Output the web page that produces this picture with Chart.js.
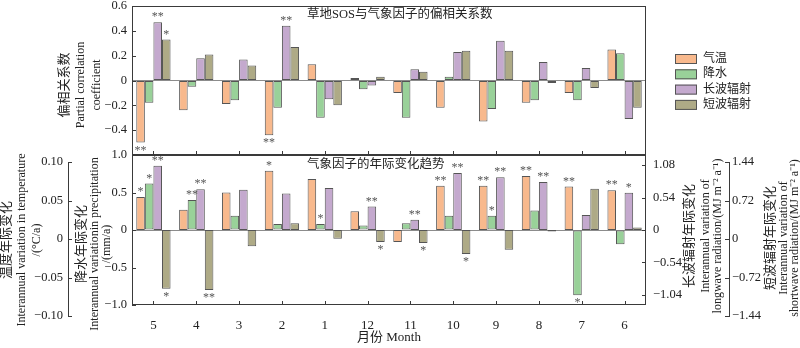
<!DOCTYPE html>
<html>
<head>
<meta charset="utf-8">
<title>草地SOS与气象因子</title>
<script src="https://cdn.jsdelivr.net/npm/chart.js@4.4.1/dist/chart.umd.min.js"></script>
<style>
  html, body { margin: 0; padding: 0; background: #fff; }
  #fig { position: relative; width: 800px; height: 348px; }
  #fig canvas { position: absolute; left: 0; top: 0; }
</style>
</head>
<body>
<div id="fig">
  <canvas id="pcChart" width="800" height="348"></canvas>
  <canvas id="trendChart" width="800" height="348"></canvas>
  <canvas id="sideAxes" width="800" height="348"></canvas>
</div>
<script>
const FAMILY = '"Liberation Serif", "Times New Roman", "Noto Sans CJK SC", serif';
const font = px => px + 'px ' + FAMILY;
Chart.defaults.font.family = FAMILY;
Chart.defaults.color = '#222';
Chart.defaults.animation = false;

//  Data 
const months      = ['5', '4', '3', '2', '1', '12', '11', '10', '9', '8', '7', '6'];
const seriesNames = ['气温', '降水', '长波辐射', '短波辐射'];
const seriesColors = ['#f8b98d', '#99d199', '#c4a9ce', '#aeaa86'];

// partial correlation of grassland SOS with each factor
const pcTemp  = [-0.50, -0.24, -0.19, -0.44,  0.13,  0.02, -0.10, -0.22, -0.33, -0.18, -0.10,  0.25];
const pcPrec  = [-0.18, -0.05, -0.16, -0.22, -0.30, -0.07, -0.30,  0.03, -0.23, -0.16, -0.16,  0.22];
const pcLong  = [ 0.47,  0.18,  0.17,  0.44, -0.15, -0.04,  0.09,  0.23,  0.32,  0.15,  0.10, -0.31];
const pcShort = [ 0.33,  0.21,  0.12,  0.27, -0.20,  0.03,  0.07,  0.24,  0.24, -0.02, -0.06, -0.22];
const pcTempSig  = ['**', '', '', '**', '', '', '', '', '', '', '', ''];
const pcPrecSig  = ['', '', '', '', '', '', '', '', '', '', '', ''];
const pcLongSig  = ['**', '', '', '**', '', '', '', '', '', '', '', ''];
const pcShortSig = ['*', '', '', '', '', '', '', '', '', '', '', ''];

// interannual trend of each factor (°C/a, mm/a, MJ m-2 a-1)
const trTemp  = [0.044, 0.027, 0.050, 0.079, 0.068, 0.025, -0.016, 0.059, 0.059, 0.072, 0.058, 0.053];
const trPrec  = [0.62, 0.40, 0.19, 0.08, 0.08, 0.06, 0.09, 0.19, 0.19, 0.26, -0.87, -0.19];
const trLong  = [1.07, 0.68, 0.67, 0.61, 0.70, 0.39, 0.17, 0.95, 0.88, 0.80, 0.25, 0.62];
const trShort = [-1.13, -1.15, -0.31, 0.13, -0.17, -0.23, -0.25, -0.46, -0.38, -0.03, 0.79, 0.05];
const trTempSig  = ['*', '', '', '*', '', '', '', '**', '**', '**', '**', '**'];
const trPrecSig  = ['*', '**', '', '', '*', '', '', '', '*', '', '*', ''];
const trLongSig  = ['**', '**', '', '', '', '**', '**', '**', '**', '**', '', '*'];
const trShortSig = ['*', '**', '', '', '', '*', '*', '*', '', '', '', ''];

// longwave axis ticks and the labels printed beside them
const longTicks      = [-1.08, -0.54, 0, 0.54, 1.08];
const longTickLabels = ['−1.04', '−0.54', '0', '0.54', '1.08'];

const topTitle    = '草地SOS与气象因子的偏相关系数';
const bottomTitle = '气象因子的年际变化趋势';
const pcAxisTitle    = ['偏相关系数', 'Partial correlation', 'coefficient'];
const tempAxisTitle  = ['温度年际变化', 'Interannual variation in temperature', '/(°C/a)'];
const precAxisTitle  = ['降水年际变化', 'Interannual variationin precipitation', '/(mm/a)'];
const longAxisTitle  = ['长波辐射年际变化', 'Interannual variation of', 'longwave radiation/(MJ m⁻² a⁻¹)'];
const shortAxisTitle = ['短波辐射年际变化', 'Interannual variation of', 'shortwave radiation/(MJ m⁻² a⁻¹)'];
const monthTitle = '月份 Month';

const edge = '#555';     // bar outlines and asterisks
const axisInk = '#3a3a3a';  // frames, axis lines and tick marks
const fmt = (v, d) => Math.abs(v) < 1e-9 ? '0' : v.toFixed(d).replace('-', '−');
const zeroLine = c => (c.tick && Math.abs(c.tick.value) < 1e-9) ? '#8c8c8c' : 'transparent';

// fixed axis width, and no extra room for the end labels
const fixWidth = w => s => { s.width = w; s.paddingTop = 0; s.paddingBottom = 0; };

//  Helpers 
// rotated multi-line titles, one x per line, reading bottom to top
function drawUpright(ctx, lines, xs, y) {
    lines.forEach((line, i) => {
        ctx.save();
        ctx.translate(xs[i], y);
        ctx.rotate(-Math.PI / 2);
        ctx.font = font(i === 0 ? 13 : 12);
        ctx.textAlign = 'center';
        ctx.textBaseline = 'middle';
        ctx.fillText(line, 0, 0);
        ctx.restore();
    });
}

// box round the plot area and short ticks pointing inwards
function framePlugin(box, marks) {
    return {
        id: 'frame',
        afterDraw(chart) {
            const { ctx, chartArea: a } = chart;
            ctx.save();
            ctx.strokeStyle = axisInk;
            ctx.lineWidth = 1;
            if (box) ctx.strokeRect(a.left + 0.5, a.top + 0.5, a.right - a.left - 1, a.bottom - a.top - 1);
            ctx.beginPath();
            marks.forEach(([id, side]) => {
                const s = chart.scales[id];
                if (side === 'bottom') {
                    months.forEach((m, i) => {
                        const p = Math.round(s.getPixelForValue(i)) + 0.5;
                        ctx.moveTo(p, a.bottom); ctx.lineTo(p, a.bottom - 4);
                    });
                } else {
                    s.ticks.forEach(t => {
                        const p = Math.round(s.getPixelForValue(t.value)) + 0.5;
                        if (side === 'left') { ctx.moveTo(a.left, p); ctx.lineTo(a.left + 4, p); }
                        else { ctx.moveTo(a.right, p); ctx.lineTo(a.right - 4, p); }
                    });
                }
            });
            ctx.stroke();
            ctx.restore();
        }
    };
}

// significance asterisks above positive bars, below negative ones
const starPlugin = {
    id: 'stars',
    afterDatasetsDraw(chart) {
        const ctx = chart.ctx;
        ctx.save();
        ctx.font = font(12);
        ctx.fillStyle = edge;
        ctx.textAlign = 'center';
        ctx.textBaseline = 'middle';
        chart.data.datasets.forEach((ds, i) => {
            chart.getDatasetMeta(i).data.forEach((bar, j) => {
                const mark = ds.sig[j];
                if (!mark) return;
                const y = ds.data[j] >= 0 ? bar.y - 5 : bar.y + 8;
                ctx.fillText(mark, bar.x, y);
            });
        });
        ctx.restore();
    }
};

const barStyle = { borderColor: edge, borderWidth: 1, borderSkipped: false, categoryPercentage: 0.8, barPercentage: 1 };

//  Top panel: partial correlation 
const pcNotes = {
    id: 'pcNotes',
    afterDraw(chart) {
        const { ctx, chartArea: a } = chart;
        ctx.save();
        ctx.fillStyle = '#222';
        ctx.font = font(12.5);
        ctx.textAlign = 'left';
        ctx.textBaseline = 'middle';
        ctx.fillText(topTitle, a.left + 175, a.top + 9);
        drawUpright(ctx, pcAxisTitle, [65, 81, 97], 85);

        // legend
        seriesNames.forEach((name, i) => {
            const x = a.right + 29, y = a.top + 53 + i * 15.3;
            ctx.fillStyle = seriesColors[i];
            ctx.fillRect(x, y - 5, 22, 10);
            ctx.strokeStyle = edge;
            ctx.strokeRect(x + 0.5, y - 4.5, 21, 9);
            ctx.fillStyle = '#222';
            ctx.font = font(12);
            ctx.fillText(name, x + 28, y);
        });
        ctx.restore();
    }
};

new Chart(document.getElementById('pcChart'), {
    type: 'bar',
    data: {
        labels: months,
        datasets: [
            { label: seriesNames[0], data: pcTemp,  sig: pcTempSig,  backgroundColor: seriesColors[0], ...barStyle },
            { label: seriesNames[1], data: pcPrec,  sig: pcPrecSig,  backgroundColor: seriesColors[1], ...barStyle },
            { label: seriesNames[2], data: pcLong,  sig: pcLongSig,  backgroundColor: seriesColors[2], ...barStyle },
            { label: seriesNames[3], data: pcShort, sig: pcShortSig, backgroundColor: seriesColors[3], ...barStyle }
        ]
    },
    options: {
        responsive: false,
        devicePixelRatio: 1,
        layout: { padding: { top: 6, right: 154, bottom: 193, left: 0 } },
        plugins: { legend: { display: false }, tooltip: { enabled: false } },
        scales: {
            x: { display: false },
            y: {
                min: -0.6, max: 0.6,
                afterFit: fixWidth(132),
                border: { display: false },
                grid: { drawTicks: false, color: zeroLine },
                ticks: {
                    stepSize: 0.2, padding: 5, font: { size: 12.5 },
                    callback: v => v < -0.59 ? '' : fmt(v, 1)
                }
            }
        }
    },
    plugins: [framePlugin(true, [['x', 'bottom'], ['y', 'left']]), starPlugin, pcNotes]
});

//  Bottom panel: interannual trends 
const trendNotes = {
    id: 'trendNotes',
    afterDraw(chart) {
        const { ctx, chartArea: a } = chart;
        ctx.save();
        ctx.fillStyle = '#222';
        ctx.font = font(12.5);
        ctx.textAlign = 'left';
        ctx.textBaseline = 'middle';
        ctx.fillText(bottomTitle, a.left + 175, a.top + 10);
        drawUpright(ctx, precAxisTitle, [82, 95, 107], 244);
        drawUpright(ctx, longAxisTitle, [690, 706, 718], 236);
        ctx.restore();
    }
};

new Chart(document.getElementById('trendChart'), {
    type: 'bar',
    data: {
        labels: months,
        datasets: [
            { label: seriesNames[0], data: trTemp,  sig: trTempSig,  yAxisID: 'yT', backgroundColor: seriesColors[0], ...barStyle },
            { label: seriesNames[1], data: trPrec,  sig: trPrecSig,  yAxisID: 'y',  backgroundColor: seriesColors[1], ...barStyle },
            { label: seriesNames[2], data: trLong,  sig: trLongSig,  yAxisID: 'yL', backgroundColor: seriesColors[2], ...barStyle },
            { label: seriesNames[3], data: trShort, sig: trShortSig, yAxisID: 'yS', backgroundColor: seriesColors[3], ...barStyle }
        ]
    },
    options: {
        responsive: false,
        devicePixelRatio: 1,
        layout: { padding: { top: 155, right: 0, bottom: 0, left: 0 } },
        plugins: { legend: { display: false }, tooltip: { enabled: false } },
        scales: {
            x: {
                afterFit: s => { s.height = 43; },
                grid: { display: false },
                border: { display: false },
                ticks: { padding: 5, font: { size: 13 } },
                title: { display: true, text: monthTitle, font: { size: 13 }, padding: { top: 0, bottom: 3 } }
            },
            y: {
                position: 'left',
                min: -1, max: 1,
                afterFit: fixWidth(132),
                border: { display: false },
                grid: { drawTicks: false, color: zeroLine },
                ticks: { stepSize: 0.5, padding: 5, font: { size: 12.5 }, callback: v => fmt(v, 1) }
            },
            yT: { axis: 'y', display: false, min: -0.1, max: 0.1 },
            yL: {
                axis: 'y',
                position: 'right',
                min: -1.25, max: 1.25,
                afterFit: fixWidth(154),
                afterBuildTicks: s => { s.ticks = longTicks.map(v => ({ value: v })); },
                border: { display: false },
                grid: { display: false, drawTicks: false },
                ticks: { padding: 7, font: { size: 12.5 }, callback: (v, i) => longTickLabels[i] }
            },
            yS: { axis: 'y', display: false, min: -1.44, max: 1.44 }
        }
    },
    plugins: [framePlugin(true, [['x', 'bottom'], ['y', 'left'], ['yL', 'right']]), starPlugin, trendNotes]
});

//  Free-standing temperature and shortwave axes 
const sideNotes = {
    id: 'sideNotes',
    afterDraw(chart) {
        const ctx = chart.ctx;
        ctx.save();
        ctx.fillStyle = '#222';
        drawUpright(ctx, tempAxisTitle, [7, 22, 37], 240);
        drawUpright(ctx, shortAxisTitle, [771, 784, 795], 238);
        ctx.restore();
    }
};

new Chart(document.getElementById('sideAxes'), {
    type: 'bar',
    data: { labels: [''], datasets: [] },
    options: {
        responsive: false,
        devicePixelRatio: 1,
        layout: { padding: { top: 162, right: 0, bottom: 32, left: 0 } },
        plugins: { legend: { display: false }, tooltip: { enabled: false } },
        scales: {
            x: { display: false },
            yT: {
                axis: 'y',
                position: 'left',
                min: -0.1, max: 0.1,
                afterFit: fixWidth(68),
                border: { color: axisInk, width: 1 },
                grid: { display: false, drawTicks: false },
                ticks: { stepSize: 0.05, padding: 5, font: { size: 12.5 }, callback: v => fmt(v, 2) }
            },
            yS: {
                axis: 'y',
                position: 'right',
                min: -1.44, max: 1.44,
                afterFit: fixWidth(71),
                border: { color: axisInk, width: 1 },
                grid: { display: false, drawTicks: false },
                ticks: { stepSize: 0.72, padding: 3, font: { size: 12.5 }, callback: v => fmt(v, 2) }
            }
        }
    },
    plugins: [framePlugin(false, [['yT', 'left'], ['yS', 'right']]), sideNotes]
});
</script>
</body>
</html>
